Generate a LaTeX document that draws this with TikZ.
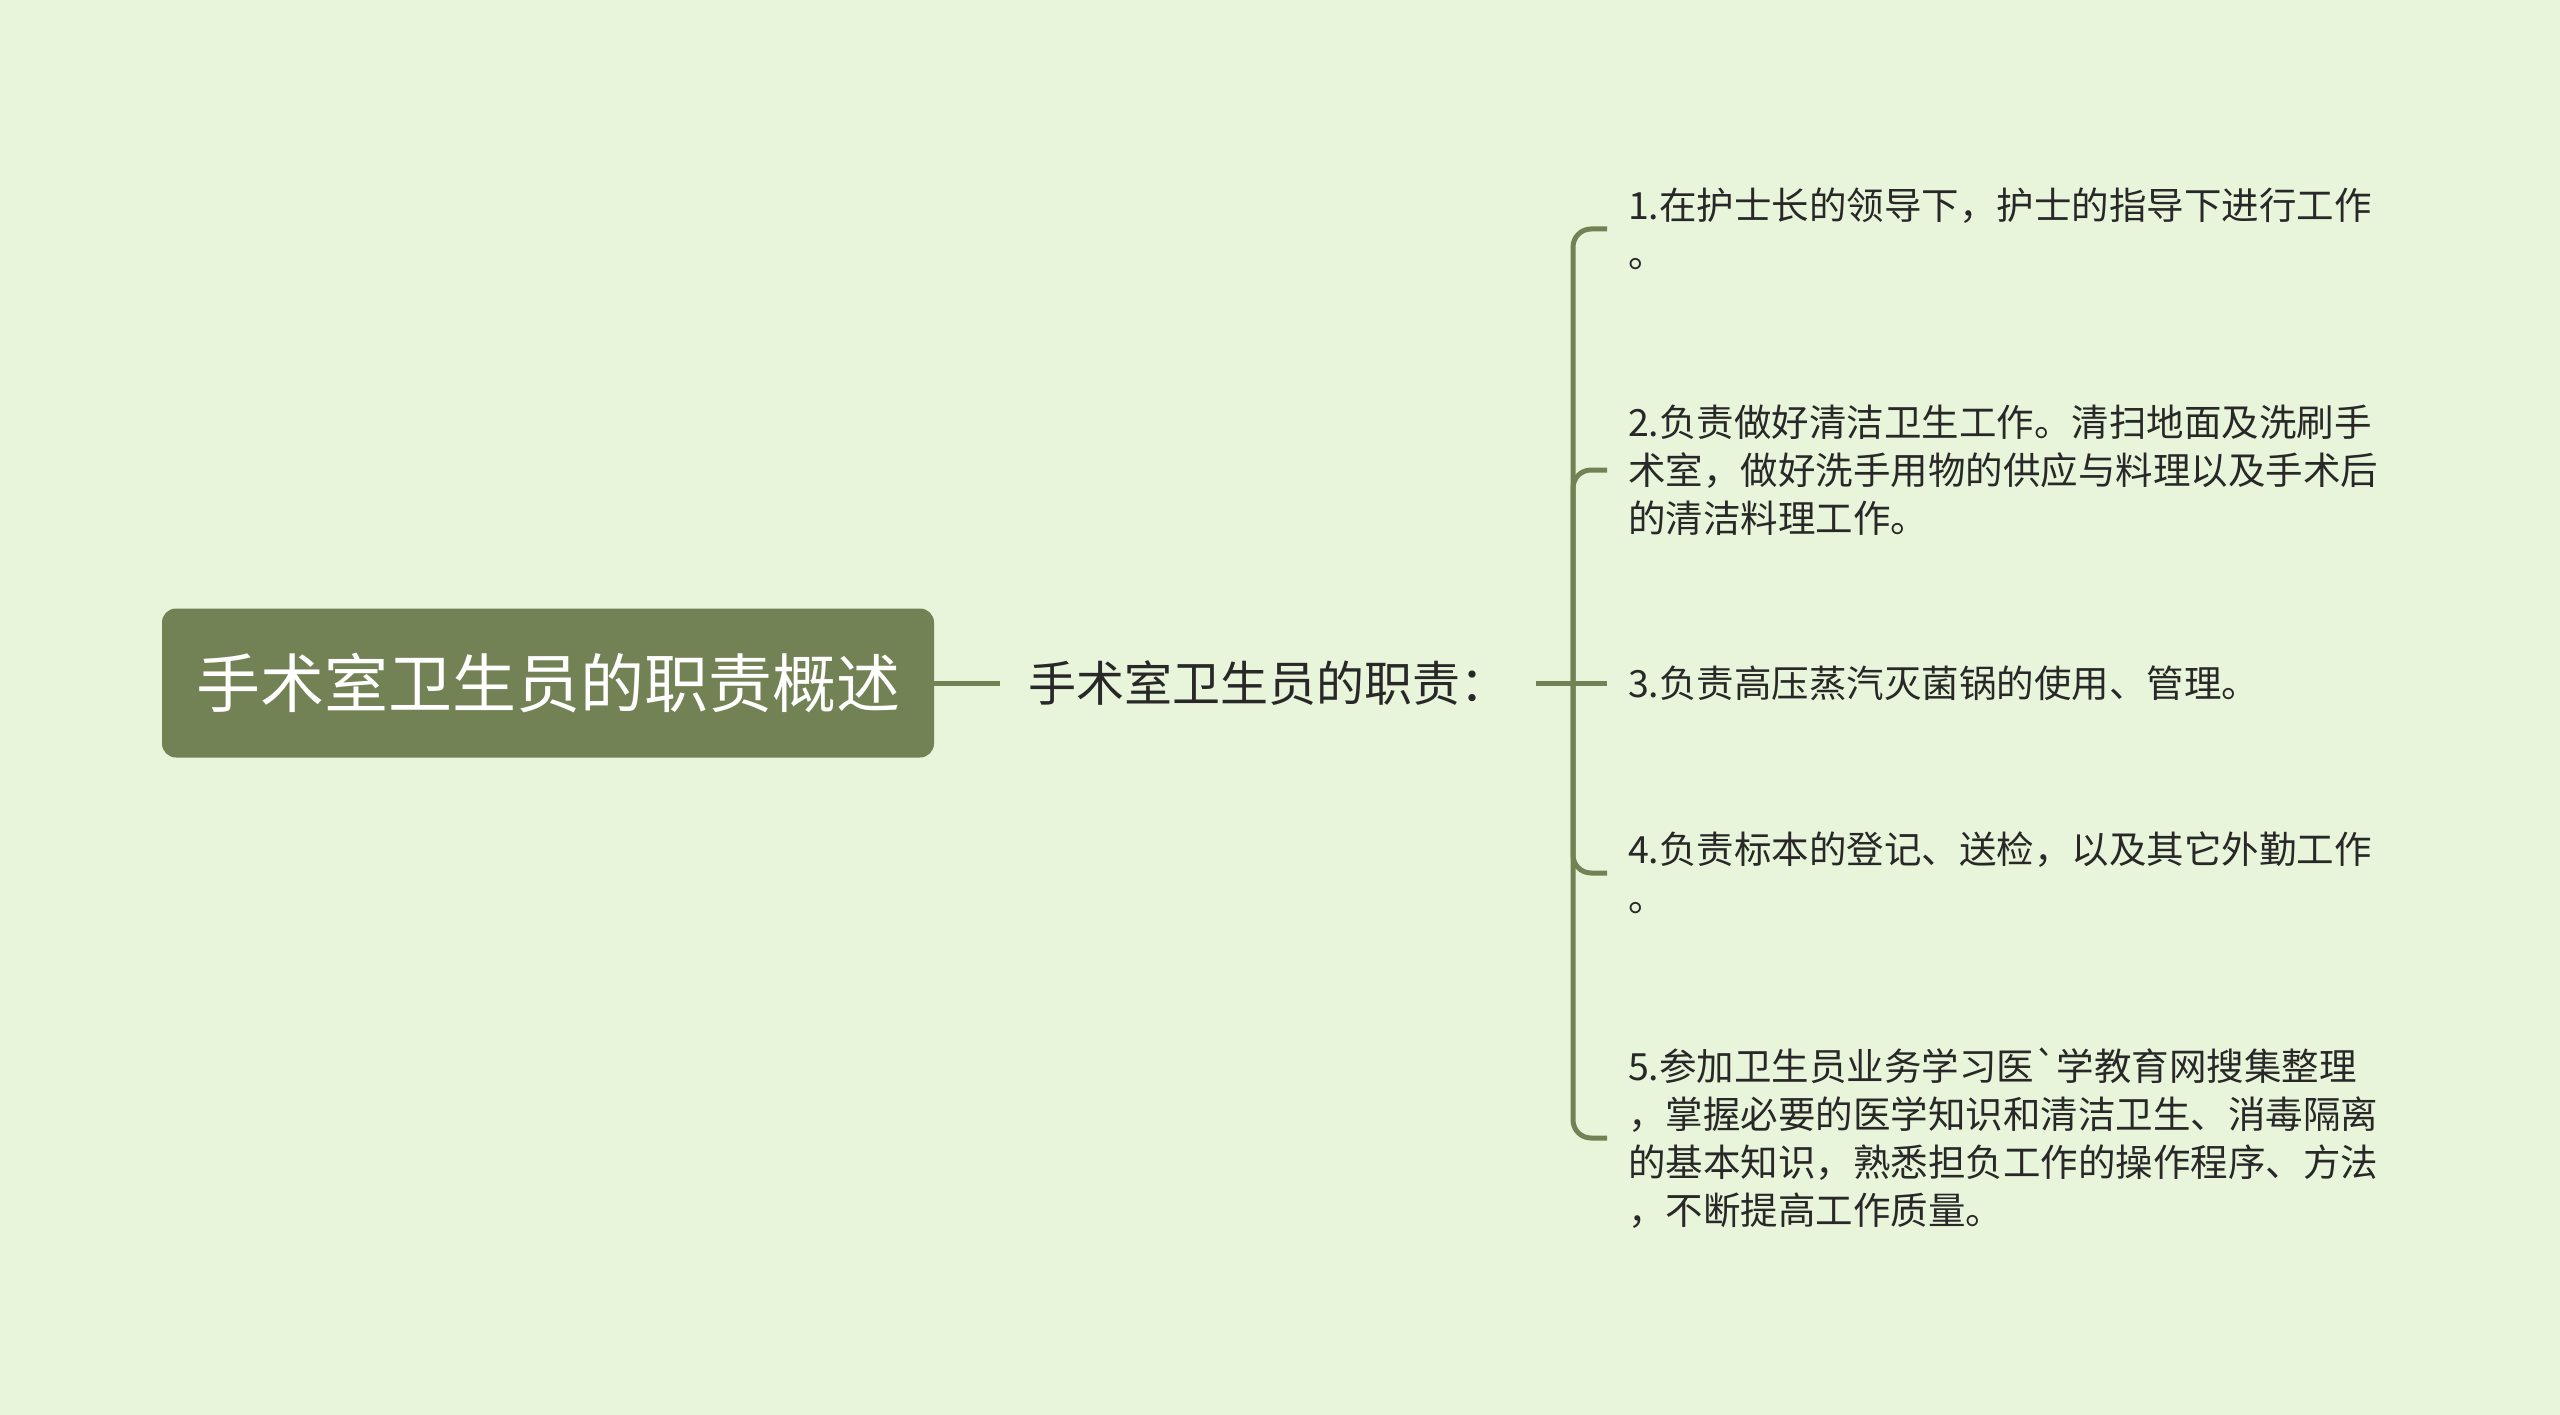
\documentclass[tikz,border=0pt]{standalone}
\usepackage{fontspec}
\setmainfont{Noto Sans CJK SC}[Ligatures=TeXOff]
\usepackage{tikz}
\definecolor{paper}{RGB}{233,245,219}
\definecolor{olive}{RGB}{115,130,84}
\definecolor{ink}{RGB}{40,40,40}
\tikzstyle{topic} = [fill=olive, rounded corners=14pt, minimum width=772pt, minimum height=149pt, text=white, font={\fontsize{64}{64}\selectfont}]
\tikzstyle{sub} = [inner xsep=28pt, inner ysep=0pt, text=ink, font={\fontsize{48}{48}\selectfont}]
\tikzstyle{leaf} = [anchor=west, inner xsep=21pt, inner ysep=0pt, outer sep=0pt, align=left, text=ink, font={\fontsize{37.5}{48}\selectfont}]
\tikzstyle{branch} = [draw=olive, line width=5pt, rounded corners=18pt]

\begin{document}
\begin{tikzpicture}[x=1pt,y=-1pt]
    \fill[paper] (0,0) rectangle (2560,1415);
    \useasboundingbox (0,0) rectangle (2560,1415);
    \node[topic](root) at (548,683){手术室卫生员的职责概述};
    \node[sub](duty) at (1268,683){手术室卫生员的职责：};
    \coordinate (hub) at (1573,683);
    \node[leaf](t1) at (1607,229){1.在护士长的领导下，护士的指导下进行工作\\。};
    \node[leaf](t2) at (1607,470){2.负责做好清洁卫生工作。清扫地面及洗刷手\\术室，做好洗手用物的供应与料理以及手术后\\的清洁料理工作。};
    \node[leaf](t3) at (1607,683){3.负责高压蒸汽灭菌锅的使用、管理。};
    \node[leaf](t4) at (1607,873){4.负责标本的登记、送检，以及其它外勤工作\\。};
    \node[leaf](t5) at (1607,1138){5.参加卫生员业务学习医`学教育网搜集整理\\，掌握必要的医学知识和清洁卫生、消毒隔离\\的基本知识，熟悉担负工作的操作程序、方法\\，不断提高工作质量。};
    \draw[branch](root)--(duty);
    \draw[branch](duty)--(hub);
    \draw[branch](hub)|-(t1.west);
    \draw[branch](hub)|-(t2.west);
    \draw[branch](hub)--(t3.west);
    \draw[branch](hub)|-(t4.west);
    \draw[branch](hub)|-(t5.west);
  \end{tikzpicture}
\end{document}
